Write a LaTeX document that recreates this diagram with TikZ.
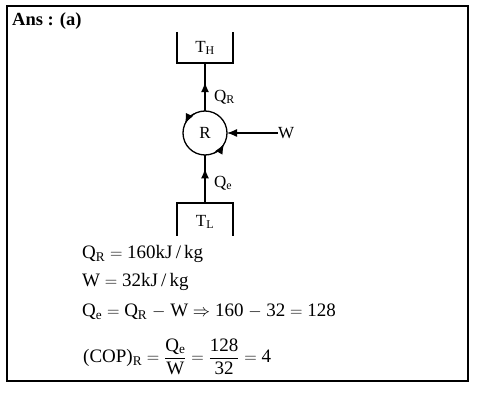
\documentclass[tikz,border=0pt]{standalone}
\usepackage{fontspec}
\setmainfont{Liberation Serif}
\usepackage{amsmath}
\usetikzlibrary{arrows.meta,decorations.markings}
\begin{document}
\begin{tikzpicture}
[
    x=1pt, y=1pt,
    lbl/.style={font=\fontsize{17}{20}\selectfont, inner sep=0},
    eqn/.style={font=\fontsize{19}{23}\selectfont, anchor=base west, inner sep=0},
    res/.style={line width=1.6pt},
    tip/.style={-{Latex[length=10pt,width=8pt]}},
    flow/.style={line width=1.3pt, postaction={decorate},
        decoration={markings, mark=at position #1 with {\arrow{Latex[length=10pt,width=8pt]}}}}
]
    \useasboundingbox (0,0) rectangle (499,413);
    \draw [line width=1.8pt] (7,32) rectangle (468,407);
    \node [anchor=base west, inner sep=0, font=\fontsize{18.5}{22}\selectfont\bfseries] (ans) at (12,387) {Ans : (a)};

    \node [lbl] (th) at (205,365) {T\textsubscript{H}};
    \coordinate (thb) at (205,350);
    \draw [res] (177,381) |- (233,350) -- (233,381);

    \node [draw, circle, line width=1.3pt, minimum size=44, outer sep=0, lbl] (r) at (205,280) {R};
    \draw [line width=1.3pt, tip] (r.120) arc[start angle=120, end angle=155, radius=22];
    \draw [line width=1.3pt, tip] (r.-65) arc[start angle=-65, end angle=-30, radius=22];

    \draw [flow=0.6] (r.north) -- (thb);
    \node [lbl, anchor=west] (qr) at (214,316) {Q\textsubscript{R}};

    \node [lbl, anchor=west] (w) at (278,280) {W};
    \draw [line width=1.3pt, tip] (w.west) -- (r.east);

    \node [lbl] (tl) at (205,191) {T\textsubscript{L}};
    \coordinate (tlt) at (205,210);
    \draw [res] (177,177) |- (233,210) -- (233,177);
    \draw [flow=0.72] (tlt) -- (r.south);
    \node [lbl, anchor=west] (qe) at (214,230) {Q\textsubscript{e}};

    \node [eqn] (eq1) at (82,154) {Q\textsubscript{R} $=$ 160kJ\,/\,kg};
    \node [eqn] (eq2) at (82,126) {W $=$ 32kJ\,/\,kg};
    \node [eqn] (eq3) at (82,96) {Q\textsubscript{e} $=$ Q\textsubscript{R} $-$ W $\Rightarrow$ 160 $-$ 32 $=$ 128};
    \node [eqn] (eq4) at (83,50) {(COP)\textsubscript{R} $=\dfrac{\text{Q\textsubscript{e}}}{\text{W}}=\dfrac{\text{128}}{\text{32}}=\text{4}$};
\end{tikzpicture}
\end{document}
